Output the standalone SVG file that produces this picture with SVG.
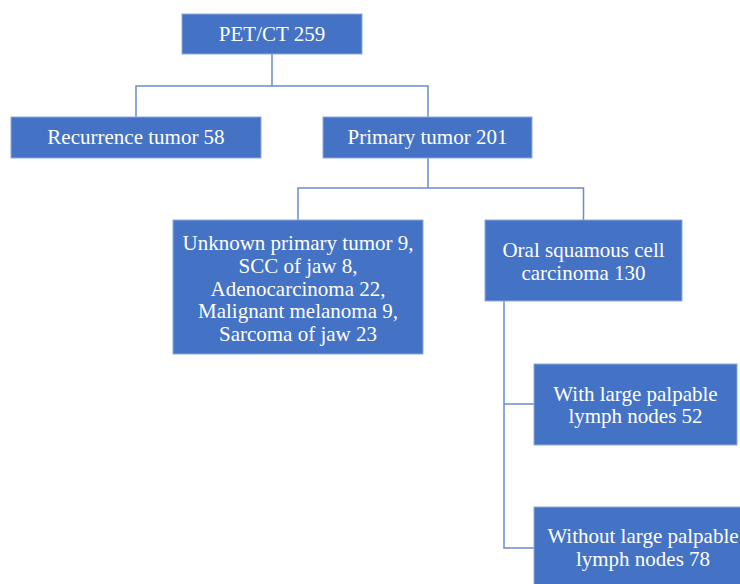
<svg xmlns="http://www.w3.org/2000/svg" width="740" height="584" viewBox="0 0 740 584">
<style>
.box{fill:#4472C4;stroke:#8EA9DB;stroke-width:1}
.t{font-family:"Liberation Serif","Times New Roman",serif;font-size:21px;fill:#FFFFFF;text-anchor:middle}
.c{fill:none;stroke:#6A8CCB;stroke-width:1.5}
</style>
<rect width="740" height="584" fill="#FFFFFF"/>
<g id="connectors">
<path class="c" d="M272 54 V86 M136 117 V86 H428 V117"/>
<path class="c" d="M428 158 V188 M298 220 V188 H583.5 V220"/>
<path class="c" d="M504 301 V548 H534 M504 404 H534"/>
</g>
<g id="pet">
<rect class="box" x="182" y="14" width="180" height="40"/>
<text class="t" x="272" y="41">PET/CT 259</text>
</g>
<g id="recurrence">
<rect class="box" x="11" y="117" width="250" height="41"/>
<text class="t" x="136" y="144">Recurrence tumor 58</text>
</g>
<g id="primary">
<rect class="box" x="323" y="117" width="209" height="41"/>
<text class="t" x="427.5" y="144">Primary tumor 201</text>
</g>
<g id="other">
<rect class="box" x="173" y="220" width="250" height="134"/>
<text class="t" x="298" y="250">Unknown primary tumor 9,</text>
<text class="t" x="298" y="273">SCC of jaw 8,</text>
<text class="t" x="298" y="296">Adenocarcinoma 22,</text>
<text class="t" x="298" y="318">Malignant melanoma 9,</text>
<text class="t" x="298" y="341">Sarcoma of jaw 23</text>
</g>
<g id="oscc">
<rect class="box" x="485" y="220" width="197" height="81"/>
<text class="t" x="583.5" y="257">Oral squamous cell</text>
<text class="t" x="583.5" y="280">carcinoma 130</text>
</g>
<g id="with">
<rect class="box" x="534" y="364" width="203" height="81"/>
<text class="t" x="635.5" y="401">With large palpable</text>
<text class="t" x="635.5" y="423">lymph nodes 52</text>
</g>
<g id="without">
<rect class="box" x="534" y="507" width="213" height="90"/>
<text class="t" x="643" y="543">Without large palpable</text>
<text class="t" x="643" y="566">lymph nodes 78</text>
</g>
</svg>
